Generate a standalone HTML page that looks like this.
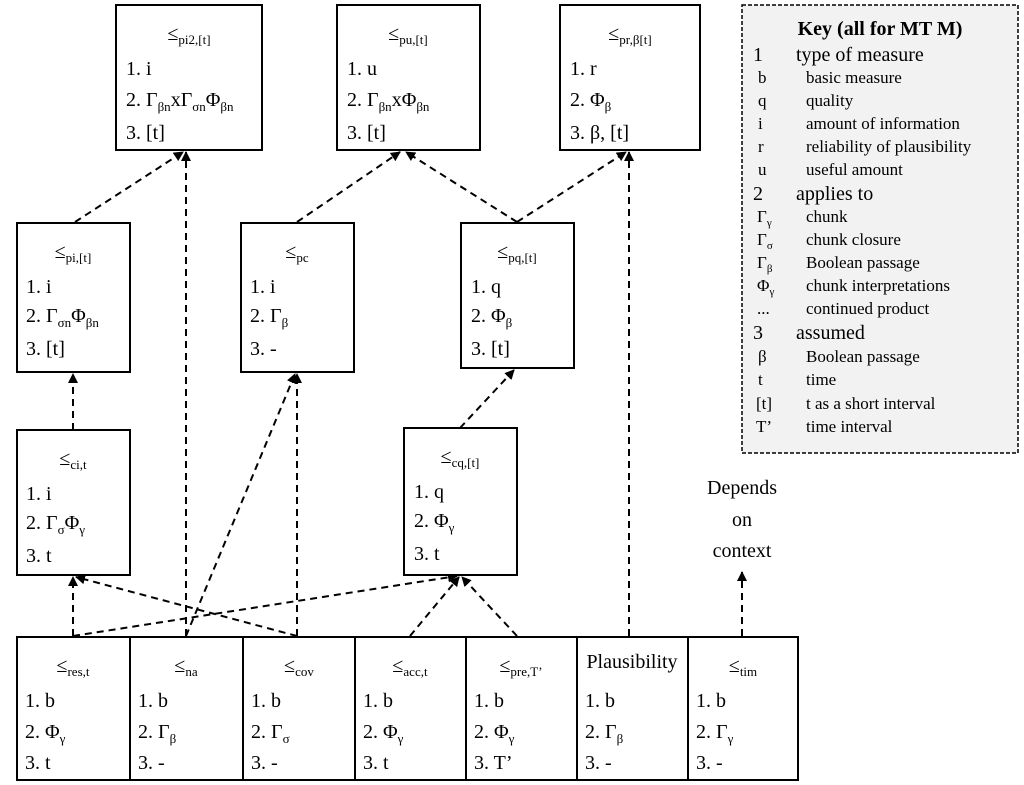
<!DOCTYPE html>
<html><head><meta charset="utf-8"><style>
html,body{margin:0;padding:0;background:#fff;}
svg{display:block;font-family:"Liberation Serif",serif;}
.b{fill:#fff;stroke:#000;stroke-width:2;}
.d{stroke:#000;stroke-width:2;stroke-dasharray:7,5;fill:none;}
text{font-size:20px;fill:#000;}
.k{font-size:17px;}
.km{font-size:20px;}
</style></head><body>
<svg width="1024" height="785" viewBox="0 0 1024 785" xmlns="http://www.w3.org/2000/svg">
<defs><marker id="a" markerWidth="10" markerHeight="10" refX="9" refY="5" orient="auto" markerUnits="userSpaceOnUse"><path d="M0,0 L10,5 L0,10 z" fill="#000"/></marker></defs>

<!-- connectors -->
<line class="d" x1="75" y1="222" x2="183" y2="152" marker-end="url(#a)"/>
<line class="d" x1="186" y1="636" x2="186" y2="152" marker-end="url(#a)"/>
<line class="d" x1="297" y1="222" x2="400" y2="152" marker-end="url(#a)"/>
<line class="d" x1="517" y1="222" x2="406" y2="152" marker-end="url(#a)"/>
<line class="d" x1="517" y1="222" x2="626" y2="152" marker-end="url(#a)"/>
<line class="d" x1="629" y1="636" x2="629" y2="152" marker-end="url(#a)"/>
<line class="d" x1="73" y1="430" x2="73" y2="374" marker-end="url(#a)"/>
<line class="d" x1="186" y1="636" x2="295" y2="374" marker-end="url(#a)"/>
<line class="d" x1="297" y1="636" x2="297" y2="374" marker-end="url(#a)"/>
<line class="d" x1="460" y1="428" x2="514" y2="370" marker-end="url(#a)"/>
<line class="d" x1="73" y1="636" x2="73" y2="577" marker-end="url(#a)"/>
<line class="d" x1="297" y1="636" x2="76" y2="577" marker-end="url(#a)"/>
<line class="d" x1="73" y1="636" x2="457" y2="576" marker-end="url(#a)"/>
<line class="d" x1="410" y1="636" x2="459" y2="577" marker-end="url(#a)"/>
<line class="d" x1="517" y1="636" x2="462" y2="577" marker-end="url(#a)"/>
<line class="d" x1="742" y1="636" x2="742" y2="572" marker-end="url(#a)"/>

<!-- top row -->
<rect class="b" x="116" y="5" width="146" height="145"/>
<text x="189" y="40" text-anchor="middle">≤<tspan font-size="13" dy="4">pi2,[t]</tspan></text>
<text x="126" y="75">1. i</text>
<text x="126" y="106">2. Γ<tspan font-size="13" dy="5">βn</tspan><tspan dy="-5">xΓ</tspan><tspan font-size="13" dy="5">σn</tspan><tspan dy="-5">Φ</tspan><tspan font-size="13" dy="5">βn</tspan></text>
<text x="126" y="139">3. [t]</text>

<rect class="b" x="337" y="5" width="143" height="145"/>
<text x="408" y="40" text-anchor="middle">≤<tspan font-size="13" dy="4">pu,[t]</tspan></text>
<text x="347" y="75">1. u</text>
<text x="347" y="106">2. Γ<tspan font-size="13" dy="5">βn</tspan><tspan dy="-5">xΦ</tspan><tspan font-size="13" dy="5">βn</tspan></text>
<text x="347" y="139">3. [t]</text>

<rect class="b" x="560" y="5" width="140" height="145"/>
<text x="630" y="40" text-anchor="middle">≤<tspan font-size="13" dy="4">pr,β[t]</tspan></text>
<text x="570" y="75">1. r</text>
<text x="570" y="106">2. Φ<tspan font-size="13" dy="5">β</tspan></text>
<text x="570" y="139">3. β, [t]</text>

<!-- middle row -->
<rect class="b" x="17" y="223" width="113" height="149"/>
<text x="73" y="258" text-anchor="middle">≤<tspan font-size="13" dy="4">pi,[t]</tspan></text>
<text x="26" y="293">1. i</text>
<text x="26" y="322">2. Γ<tspan font-size="13" dy="5">σn</tspan><tspan dy="-5">Φ</tspan><tspan font-size="13" dy="5">βn</tspan></text>
<text x="26" y="355">3. [t]</text>

<rect class="b" x="241" y="223" width="113" height="149"/>
<text x="297" y="258" text-anchor="middle">≤<tspan font-size="13" dy="4">pc</tspan></text>
<text x="250" y="293">1. i</text>
<text x="250" y="322">2. Γ<tspan font-size="13" dy="5">β</tspan></text>
<text x="250" y="355">3. -</text>

<rect class="b" x="461" y="223" width="113" height="145"/>
<text x="517" y="258" text-anchor="middle">≤<tspan font-size="13" dy="4">pq,[t]</tspan></text>
<text x="471" y="293">1. q</text>
<text x="471" y="322">2. Φ<tspan font-size="13" dy="5">β</tspan></text>
<text x="471" y="355">3. [t]</text>

<!-- third row -->
<rect class="b" x="17" y="430" width="113" height="145"/>
<text x="73" y="465" text-anchor="middle">≤<tspan font-size="13" dy="4">ci,t</tspan></text>
<text x="26" y="500">1. i</text>
<text x="26" y="529">2. Γ<tspan font-size="13" dy="5">σ</tspan><tspan dy="-5">Φ</tspan><tspan font-size="13" dy="5">γ</tspan></text>
<text x="26" y="562">3. t</text>

<rect class="b" x="404" y="428" width="113" height="147"/>
<text x="460" y="463" text-anchor="middle">≤<tspan font-size="13" dy="4">cq,[t]</tspan></text>
<text x="414" y="498">1. q</text>
<text x="414" y="527">2. Φ<tspan font-size="13" dy="5">γ</tspan></text>
<text x="414" y="560">3. t</text>

<text x="742" y="494" text-anchor="middle">Depends</text>
<text x="742" y="526" text-anchor="middle">on</text>
<text x="742" y="557" text-anchor="middle">context</text>

<!-- bottom row -->
<rect class="b" x="17" y="637" width="781" height="143"/>
<line x1="130" y1="637" x2="130" y2="780" stroke="#000" stroke-width="2"/>
<line x1="243" y1="637" x2="243" y2="780" stroke="#000" stroke-width="2"/>
<line x1="355" y1="637" x2="355" y2="780" stroke="#000" stroke-width="2"/>
<line x1="466" y1="637" x2="466" y2="780" stroke="#000" stroke-width="2"/>
<line x1="577" y1="637" x2="577" y2="780" stroke="#000" stroke-width="2"/>
<line x1="688" y1="637" x2="688" y2="780" stroke="#000" stroke-width="2"/>

<text x="73" y="672" text-anchor="middle">≤<tspan font-size="13" dy="4">res,t</tspan></text>
<text x="25" y="707">1. b</text><text x="25" y="738">2. Φ<tspan font-size="13" dy="5">γ</tspan></text><text x="25" y="769">3. t</text>

<text x="186" y="672" text-anchor="middle">≤<tspan font-size="13" dy="4">na</tspan></text>
<text x="138" y="707">1. b</text><text x="138" y="738">2. Γ<tspan font-size="13" dy="5">β</tspan></text><text x="138" y="769">3. -</text>

<text x="299" y="672" text-anchor="middle">≤<tspan font-size="13" dy="4">cov</tspan></text>
<text x="251" y="707">1. b</text><text x="251" y="738">2. Γ<tspan font-size="13" dy="5">σ</tspan></text><text x="251" y="769">3. -</text>

<text x="410" y="672" text-anchor="middle">≤<tspan font-size="13" dy="4">acc,t</tspan></text>
<text x="363" y="707">1. b</text><text x="363" y="738">2. Φ<tspan font-size="13" dy="5">γ</tspan></text><text x="363" y="769">3. t</text>

<text x="521" y="672" text-anchor="middle">≤<tspan font-size="13" dy="4">pre,T’</tspan></text>
<text x="474" y="707">1. b</text><text x="474" y="738">2. Φ<tspan font-size="13" dy="5">γ</tspan></text><text x="474" y="769">3. T’</text>

<text x="632" y="668" text-anchor="middle">Plausibility</text>
<text x="585" y="707">1. b</text><text x="585" y="738">2. Γ<tspan font-size="13" dy="5">β</tspan></text><text x="585" y="769">3. -</text>

<text x="743" y="672" text-anchor="middle">≤<tspan font-size="13" dy="4">tim</tspan></text>
<text x="696" y="707">1. b</text><text x="696" y="738">2. Γ<tspan font-size="13" dy="5">γ</tspan></text><text x="696" y="769">3. -</text>

<!-- key -->
<rect x="742" y="5" width="276" height="448" fill="#f2f2f2" stroke="#000" stroke-width="1.5" stroke-dasharray="4,2"/>
<text x="880" y="35" text-anchor="middle" font-weight="bold">Key (all for MT M)</text>
<g class="km"><text x="753" y="61" class="km">1</text><text x="796" y="61" class="km">type of measure</text></g>
<text class="k" x="758" y="83">b</text><text class="k" x="806" y="83">basic measure</text>
<text class="k" x="758" y="106">q</text><text class="k" x="806" y="106">quality</text>
<text class="k" x="758" y="129">i</text><text class="k" x="806" y="129">amount of information</text>
<text class="k" x="758" y="152">r</text><text class="k" x="806" y="152">reliability of plausibility</text>
<text class="k" x="758" y="175">u</text><text class="k" x="806" y="175">useful amount</text>
<text class="km" x="753" y="200">2</text><text class="km" x="796" y="200">applies to</text>
<text class="k" x="757" y="222">Γ<tspan font-size="11" dy="4">γ</tspan></text><text class="k" x="806" y="222">chunk</text>
<text class="k" x="757" y="245">Γ<tspan font-size="11" dy="4">σ</tspan></text><text class="k" x="806" y="245">chunk closure</text>
<text class="k" x="757" y="268">Γ<tspan font-size="11" dy="4">β</tspan></text><text class="k" x="806" y="268">Boolean passage</text>
<text class="k" x="757" y="291">Φ<tspan font-size="11" dy="4">γ</tspan></text><text class="k" x="806" y="291">chunk interpretations</text>
<text class="k" x="757" y="314">...</text><text class="k" x="806" y="314">continued product</text>
<text class="km" x="753" y="339">3</text><text class="km" x="796" y="339">assumed</text>
<text class="k" x="758" y="362">β</text><text class="k" x="806" y="362">Boolean passage</text>
<text class="k" x="758" y="385">t</text><text class="k" x="806" y="385">time</text>
<text class="k" x="756" y="409">[t]</text><text class="k" x="806" y="409">t as a short interval</text>
<text class="k" x="756" y="432">T’</text><text class="k" x="806" y="432">time interval</text>
</svg>
</body></html>
